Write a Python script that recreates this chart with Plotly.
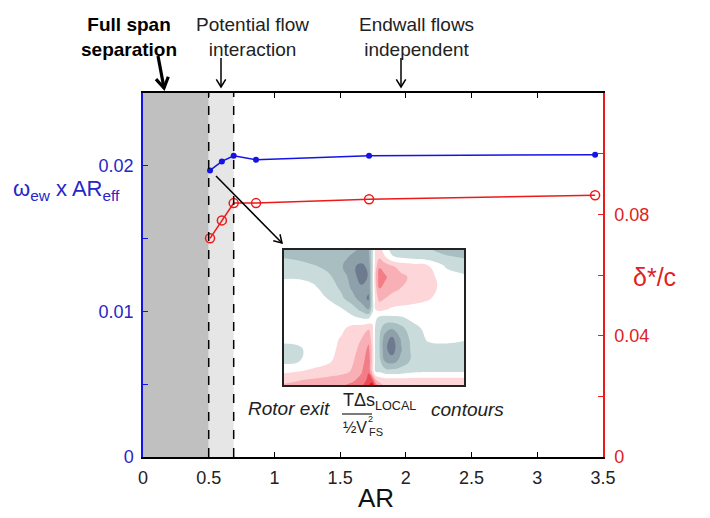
import math
import plotly.graph_objects as go

# ---------------- data ----------------
AR = [0.51, 0.60, 0.69, 0.86, 1.72, 3.44]
omega_ew_AR_eff = [0.01968, 0.02030, 0.02069, 0.02041, 0.02069, 0.02076]
delta_star_c = [0.0721, 0.0780, 0.0837, 0.0837, 0.0850, 0.0863]

x_tickvals = [0, 0.5, 1, 1.5, 2, 2.5, 3, 3.5]
x_ticktext = ["0", "0.5", "1", "1.5", "2", "2.5", "3", "3.5"]
left_tickvals = [0, 0.01, 0.02]
left_ticktext = ["0", "0.01", "0.02"]
right_tickvals = [0, 0.04, 0.08]
right_ticktext = ["0", "0.04", "0.08"]

full_span_sep_AR = [0.0, 0.5]
potential_flow_AR = [0.5, 0.69]

# inset: rotor exit entropy contours (levels)
inset_u = [0.0, 0.08, 0.16, 0.24, 0.32, 0.38, 0.43, 0.47, 0.49, 0.51, 0.53, 0.56, 0.60, 0.65, 0.72, 0.80, 0.90, 1.0]
inset_v = [0.0, 0.05, 0.12, 0.2, 0.28, 0.36, 0.44, 0.5, 0.58, 0.66, 0.74, 0.82, 0.9, 0.96, 1.0]
inset_z = [
    [-2.0, -2.0, -2.0, -2.0, -2.2, -2.4, -2.6, -2.6, -1.0, 1.0, 1.0, 0.0, -0.8, -1.0, -1.2, -1.4, -1.8, -2.0],
    [-1.6, -1.7, -2.0, -2.1, -2.3, -2.6, -2.8, -2.8, -1.0, 1.0, 1.3, 0.6, -0.4, -0.7, -0.9, -1.1, -1.4, -1.6],
    [-1.0, -1.2, -1.4, -1.7, -2.4, -3.3, -3.8, -3.2, -1.0, 1.2, 2.4, 2.0, 1.6, 1.2, 1.0, 0.6, -0.6, -1.0],
    [-0.6, -0.6, -0.8, -1.3, -1.9, -3.0, -4.0, -3.4, -1.0, 1.5, 3.0, 2.7, 2.0, 1.7, 1.3, 0.9, -0.1, -0.3],
    [-0.1, -0.1, -0.3, -0.9, -1.7, -2.7, -3.3, -3.2, -1.0, 1.3, 2.6, 2.2, 1.7, 1.5, 1.2, 0.9, 0.1, -0.1],
    [0.0, 0.0, 0.0, -0.5, -1.3, -2.1, -3.0, -3.7, -1.0, 1.0, 1.8, 1.5, 1.3, 1.1, 0.9, 0.6, 0.0, 0.0],
    [0.0, 0.0, 0.0, -0.1, -0.4, -1.0, -1.8, -2.6, -0.9, 0.6, 0.8, 0.6, 0.3, 0.2, 0.1, 0.0, 0.0, 0.0],
    [0.0, 0.0, 0.0, 0.0, 0.0, -0.3, -0.6, -0.7, 0.0, -0.3, -0.7, -0.8, -0.7, -0.6, -0.2, 0.0, 0.0, 0.0],
    [0.0, 0.0, 0.0, 0.0, 0.3, 0.8, 1.0, 1.4, 0.8, -0.8, -1.2, -2.0, -2.4, -1.8, -0.8, -0.2, 0.0, 0.0],
    [-0.3, -0.2, 0.0, 0.1, 0.6, 1.0, 1.5, 2.2, 1.0, -1.0, -1.4, -3.0, -3.8, -2.4, -1.0, -0.4, -0.3, -0.4],
    [-0.8, -0.7, -0.1, 0.2, 0.7, 1.2, 1.8, 2.8, 1.2, -1.0, -1.4, -3.2, -4.0, -2.6, -1.1, -0.8, -0.8, -1.0],
    [-0.8, -0.6, 0.0, 0.3, 0.9, 1.4, 2.0, 3.2, 1.2, -1.0, -1.2, -2.6, -3.0, -2.2, -1.2, -1.0, -1.0, -1.1],
    [0.3, 0.5, 0.7, 0.9, 1.2, 1.6, 2.4, 3.4, 1.2, -0.6, -0.6, -1.0, -1.1, -1.0, -0.7, -0.6, -0.6, -0.6],
    [1.2, 1.4, 1.6, 1.8, 2.0, 2.3, 2.8, 3.8, 3.6, 1.5, 1.0, 0.8, 0.8, 0.8, 0.8, 0.8, 0.8, 0.8],
    [1.6, 1.8, 2.0, 2.2, 2.4, 2.7, 3.2, 4.4, 5.2, 3.0, 2.0, 1.2, 1.0, 1.0, 1.0, 1.0, 1.0, 1.0],
]

# ---------------- styling ----------------
W, H = 710, 518
ML, MR, MT, MB = 143, 107, 93, 61
PW, PH = W - ML - MR, H - MT - MB
BLUE_LINE = "#1414e6"
BLUE_TXT = "#2626c8"
RED_LINE = "#ee1a1a"
RED_TXT = "#e02222"
FONT = "Liberation Sans, Arial, sans-serif"


def px2x(px):
    return (px - ML) / PW


def py2y(py):
    return (H - MB - py) / PH


band_colors = ["#6e7a8e", "#8ea1aa", "#a9bec0", "#c9dcdb", "#ffffff",
               "#fcd6d8", "#f8b0b6", "#f27d86", "#ec4a55", "#e3141f"]
cscale = []
n = len(band_colors)
for i, c in enumerate(band_colors):
    cscale.append([i / n, c])
    cscale.append([(i + 1) / n, c])

fig = go.Figure()

fig.add_trace(go.Scatter(
    x=AR, y=omega_ew_AR_eff, mode="lines+markers",
    line=dict(color=BLUE_LINE, width=1.5),
    marker=dict(color=BLUE_LINE, size=6, symbol="circle"),
    xaxis="x", yaxis="y", showlegend=False))

fig.add_trace(go.Scatter(
    x=AR, y=delta_star_c, mode="lines+markers",
    line=dict(color=RED_LINE, width=1.5),
    marker=dict(color=RED_LINE, size=9, symbol="circle-open",
                line=dict(color=RED_LINE, width=1.5)),
    xaxis="x", yaxis="y2", showlegend=False))

fig.add_trace(go.Contour(
    x=inset_u, y=inset_v, z=inset_z,
    xaxis="x3", yaxis="y3",
    colorscale=cscale, zmin=-4.5, zmax=5.5, showscale=False,
    contours=dict(start=-3.5, end=4.5, size=1, coloring="fill"),
    line=dict(width=0, smoothing=1.3), hoverinfo="skip"))

shapes = [
    dict(type="rect", xref="x", yref="paper", x0=full_span_sep_AR[0], x1=full_span_sep_AR[1],
         y0=0, y1=1, fillcolor="#c0c0c0", line=dict(width=0), layer="below"),
    dict(type="rect", xref="x", yref="paper", x0=potential_flow_AR[0], x1=potential_flow_AR[1],
         y0=0, y1=1, fillcolor="#e6e6e6", line=dict(width=0), layer="below"),
    dict(type="line", xref="x", yref="paper", x0=potential_flow_AR[0], x1=potential_flow_AR[0],
         y0=0, y1=1, line=dict(color="black", width=1.5, dash="dash")),
    dict(type="line", xref="x", yref="paper", x0=potential_flow_AR[1], x1=potential_flow_AR[1],
         y0=0, y1=1, line=dict(color="black", width=1.5, dash="dash")),
    # fraction bar
    dict(type="line", xref="paper", yref="paper", x0=px2x(342), x1=px2x(372),
         y0=py2y(414), y1=py2y(414), line=dict(color="#222", width=1.2)),
]


def arrow(tail, tip, width=1.5, head=9):
    dx, dy = tip[0] - tail[0], tip[1] - tail[1]
    L = math.hypot(dx, dy)
    ux, uy = dx / L, dy / L
    pts = []
    for ang in (0.55, -0.55):
        c, s = math.cos(ang), math.sin(ang)
        rx, ry = ux * c - uy * s, ux * s + uy * c
        pts.append((tip[0] - head * rx, tip[1] - head * ry))
    shapes.append(dict(type="line", xref="paper", yref="paper",
                       x0=px2x(tail[0]), y0=py2y(tail[1]), x1=px2x(tip[0]), y1=py2y(tip[1]),
                       line=dict(color="black", width=width)))
    path = "M {:.5f},{:.5f} L {:.5f},{:.5f} L {:.5f},{:.5f}".format(
        px2x(pts[0][0]), py2y(pts[0][1]), px2x(tip[0]), py2y(tip[1]),
        px2x(pts[1][0]), py2y(pts[1][1]))
    shapes.append(dict(type="path", xref="paper", yref="paper", path=path,
                       line=dict(color="black", width=width)))


arrow((158, 56), (164, 88), width=3.2, head=12)
arrow((221, 58), (221, 87))
arrow((401, 58), (401, 87))
arrow((216, 176), (282, 243))

ann = []


def text(px, py, s, size=17, color="#222", xanchor="center", yanchor="middle"):
    ann.append(dict(xref="paper", yref="paper", x=px2x(px), y=py2y(py), text=s,
                    showarrow=False, font=dict(size=size, color=color, family=FONT),
                    xanchor=xanchor, yanchor=yanchor, align="center"))


text(129, 37, "<b>Full span</b><br><b>separation</b>", size=19, color="black")
text(252, 37, "Potential flow<br>interaction", size=19)
text(416, 37, "Endwall flows<br>independent", size=19)

text(66, 190, "ω<sub>ew</sub> x AR<sub>eff</sub>", size=22, color=BLUE_TXT)
text(654, 277, "δ*/c", size=25, color=RED_TXT)
text(376, 498, "AR", size=26, color="#111")

# inset caption
text(332, 408, "<i>Rotor exit</i>", size=19, xanchor="right")
text(341, 401, "TΔs<sub>LOCAL</sub>", size=18, xanchor="left")
text(355, 427, "½V", size=16)
text(366, 419, "2", size=9, xanchor="left")
text(367, 432, "FS", size=11, xanchor="left")
text(429, 409, "<i>contours</i>", size=19, xanchor="left")

fig.update_layout(
    width=W, height=H,
    margin=dict(l=ML, r=MR, t=MT, b=MB, pad=0),
    paper_bgcolor="white", plot_bgcolor="white",
    font=dict(family=FONT, size=18, color="#222"),
    shapes=shapes, annotations=ann,
    xaxis=dict(domain=[0, 1], range=[0, 3.5], tickvals=x_tickvals, ticktext=x_ticktext,
               showgrid=False, zeroline=False, showline=True, linecolor="black", linewidth=1.5,
               mirror="ticks", ticks="inside", ticklen=5, tickwidth=1.2, tickcolor="black",
               tickfont=dict(size=18, color="#222"), ticklabelstandoff=4),
    yaxis=dict(domain=[0, 1], range=[0, 0.025], tickvals=left_tickvals, ticktext=left_ticktext,
               showgrid=False, zeroline=False, showline=True, linecolor=BLUE_LINE, linewidth=1.5,
               ticks="inside", ticklen=5, tickwidth=1.2, tickcolor=BLUE_LINE,
               minor=dict(tick0=0.005, dtick=0.01, ticks="inside", ticklen=5, tickwidth=1.2,
                          tickcolor=BLUE_LINE),
               tickfont=dict(size=18, color=BLUE_TXT), ticklabelstandoff=4),
    yaxis2=dict(overlaying="y", side="right", range=[0, 0.12], tickvals=right_tickvals,
                ticktext=right_ticktext, showgrid=False, zeroline=False, showline=True,
                linecolor=RED_LINE, linewidth=1.5, ticks="inside", ticklen=5, tickwidth=1.2,
                tickcolor=RED_LINE,
                minor=dict(tick0=0.02, dtick=0.04, ticks="inside", ticklen=5, tickwidth=1.2,
                           tickcolor=RED_LINE),
                tickfont=dict(size=18, color=RED_TXT), ticklabelstandoff=6),
    xaxis3=dict(domain=[px2x(284), px2x(464)], anchor="y3", range=[0, 1], showgrid=False,
                zeroline=False, showticklabels=False, ticks="", showline=True, mirror=True,
                linecolor="#222", linewidth=1.5),
    yaxis3=dict(domain=[py2y(385), py2y(250)], anchor="x3", range=[1, 0], showgrid=False,
                zeroline=False, showticklabels=False, ticks="", showline=True, mirror=True,
                linecolor="#222", linewidth=1.5),
)

fig.write_html("out.html")
